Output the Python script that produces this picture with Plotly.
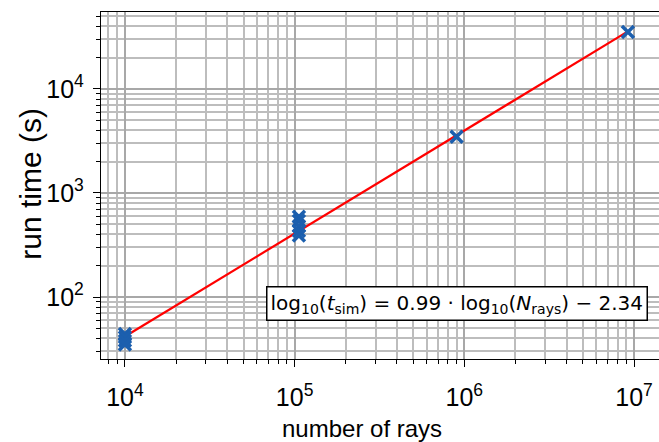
import numpy as np
import plotly.graph_objects as go

# data
n_rays = [1.0e4, 1.0e4, 1.0e4, 1.0e4,
          1.06e5, 1.06e5, 1.06e5, 1.06e5, 1.06e5,
          9.0e5, 9.2e6]
run_time = [44, 41, 38, 35,
            590, 540, 480, 430, 390,
            3475, 35300]
fit_slope = 0.99
fit_intercept = -2.34
x_tickvals = [1e4, 1e5, 1e6, 1e7]
x_ticktext = ["10<sup>4</sup>", "10<sup>5</sup>", "10<sup>6</sup>", "10<sup>7</sup>"]
y_tickvals = [1e2, 1e3, 1e4]
y_ticktext = ["10<sup>2</sup>", "10<sup>3</sup>", "10<sup>4</sup>"]
x_label = "number of rays"
y_label = "run time (s)"

fit_x = np.array([min(n_rays), max(n_rays)])
fit_y = 10 ** (fit_slope * np.log10(fit_x) + fit_intercept)

minor_vals = [k * 10.0 ** e for e in range(1, 8) for k in range(2, 10)]

fig = go.Figure()
fig.add_trace(go.Scatter(
    x=fit_x, y=fit_y, mode="lines",
    line=dict(color="#ff0000", width=2.2), showlegend=False))
fig.add_trace(go.Scatter(
    x=n_rays, y=run_time, mode="markers",
    marker=dict(symbol="x-thin", size=12, line=dict(width=3.5, color="#1c5fae"), color="#1c5fae"),
    showlegend=False))

grid_major = "#a8a8a8"
grid_minor = "#bdbdbd"
fam = "Liberation Sans, Arial, sans-serif"
tickfont = dict(family=fam, size=25, color="#000")

common = dict(
    type="log",
    ticks="outside", ticklen=7, tickwidth=1.3, tickcolor="#000",
    showline=True, linecolor="#000", linewidth=1.3,
    showgrid=True, gridcolor=grid_major, gridwidth=1.5,
    minor=dict(tickvals=minor_vals, ticks="outside", ticklen=4, tickwidth=1, tickcolor="#000",
               showgrid=True, gridcolor=grid_minor, gridwidth=1.5),
    tickfont=tickfont, zeroline=False,
)
fig.update_xaxes(range=[3.859, 7.147], tickvals=x_tickvals, ticktext=x_ticktext,
                 mirror=True, ticklabelstandoff=9, **common)
fig.update_yaxes(range=[1.404, 4.740], tickvals=y_tickvals, ticktext=y_ticktext,
                 mirror=False, ticklabelstandoff=4, **common)

fig.add_annotation(text=x_label, xref="paper", yref="paper", x=0.468, y=-0.2,
                   xanchor="center", yanchor="middle", showarrow=False,
                   font=dict(family=fam, size=24, color="#000"))
fig.add_annotation(text=y_label, xref="paper", yref="paper", x=-0.1254, y=0.505,
                   xanchor="center", yanchor="middle", showarrow=False, textangle=-90,
                   font=dict(family=fam, size=30, color="#000"))

eq = ("log<sub>10</sub>(<i>t</i><sub>sim</sub>) = %.2f · log<sub>10</sub>(<i>N</i><sub>rays</sub>) − %.2f"
      % (fit_slope, -fit_intercept))
fig.add_annotation(
    text=eq, xref="paper", yref="paper", x=0.638, y=0.16,
    xanchor="center", yanchor="middle", showarrow=False,
    font=dict(family="DejaVu Sans", size=20, color="#000"),
    bgcolor="#fff", bordercolor="#000", borderwidth=1.5, borderpad=3,
)

fig.update_layout(
    width=659, height=442,
    margin=dict(l=101, r=0, t=12, b=83),
    plot_bgcolor="#fff", paper_bgcolor="#fff",
)
fig.write_html("out.html")
